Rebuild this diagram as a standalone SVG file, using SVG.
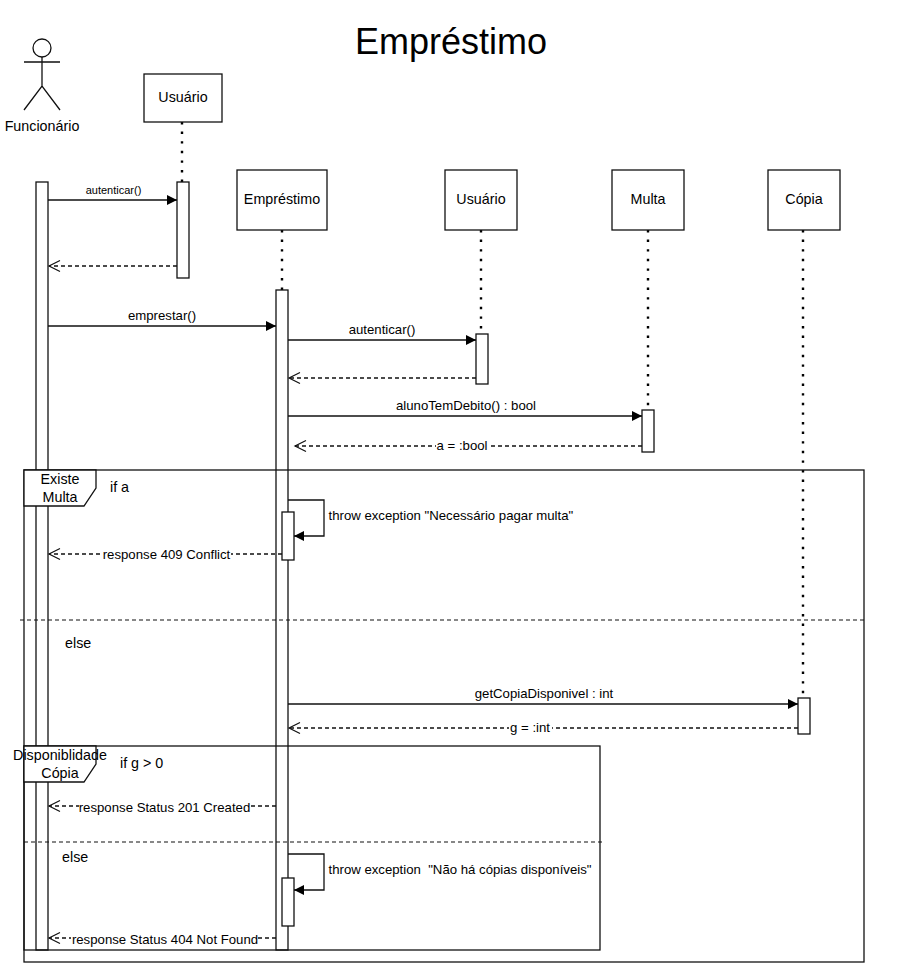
<svg xmlns="http://www.w3.org/2000/svg" width="901" height="980" viewBox="0 0 901 980">
<style>
text{font-family:"Liberation Sans",Arial,Helvetica,sans-serif;font-size:13.2px;fill:#000;text-anchor:middle}
.l{text-anchor:start}
.s{font-size:11px}
.b{font-size:14.3px}
.box{fill:#fff;stroke:#111;stroke-width:1.3}
.life{fill:none;stroke:#000;stroke-width:2.4;stroke-dasharray:2.4 7.200}
.frame{fill:none;stroke:#111;stroke-width:1.3}
.sep{fill:none;stroke:#111;stroke-width:1.2;stroke-dasharray:4 3}
.msg{fill:none;stroke:#111;stroke-width:1.3}
.call{marker-end:url(#block)}
.ret{stroke-dasharray:4 3;marker-end:url(#open)}
.bg{fill:#fff;stroke:none}
</style>
<defs>
<marker id="block" markerUnits="userSpaceOnUse" markerWidth="12" markerHeight="12" refX="10" refY="6" orient="auto"><path d="M0 1L10 6L0 11Z" fill="#000"/></marker>
<marker id="open" markerUnits="userSpaceOnUse" markerWidth="14" markerHeight="14" refX="12" refY="7" orient="auto"><path d="M1 1.500L12 7L1 12.500" fill="none" stroke="#111" stroke-width="1.200"/></marker>
</defs>
<rect width="901" height="980" fill="#fff"/>
<text id="title" x="451" y="54" style="font-size:36px">Empréstimo</text>
<g id="lifelines">
<path class="life" d="M182 122V182"/>
<path class="life" d="M282 230V290"/>
<path class="life" d="M481 230V334"/>
<path class="life" d="M648 230V410"/>
<path class="life" d="M803 230V698"/>
</g>
<g id="actor-funcionario">
<circle cx="42" cy="48" r="9" fill="#fff" stroke="#111" stroke-width="1.300"/>
<path d="M42 57V86M24 62H60M24 110L42 86L60 110" fill="none" stroke="#111" stroke-width="1.300"/>
<text class="b" x="42" y="131">Funcionário</text>
</g>
<g id="node-usuario-1"><rect class="box" x="144" y="74" width="78" height="48"/><text class="b" x="183" y="102">Usuário</text></g>
<g id="node-emprestimo"><rect class="box" x="237" y="170" width="90" height="60"/><text class="b" x="282" y="204">Empréstimo</text></g>
<g id="node-usuario-2"><rect class="box" x="445" y="170" width="72" height="60"/><text class="b" x="481" y="204">Usuário</text></g>
<g id="node-multa"><rect class="box" x="612" y="170" width="72" height="60"/><text class="b" x="648" y="204">Multa</text></g>
<g id="node-copia"><rect class="box" x="768" y="170" width="72" height="60"/><text class="b" x="804" y="204">Cópia</text></g>
<g id="activations">
<rect class="box" x="36" y="182" width="12" height="768"/>
<rect class="box" x="177" y="182" width="12" height="96"/>
<rect class="box" x="276" y="290" width="12" height="660"/>
<rect class="box" x="476" y="334" width="12" height="50"/>
<rect class="box" x="642" y="410" width="12" height="42"/>
<rect class="box" x="798" y="698" width="12" height="36"/>
</g>
<g id="frame-existe-multa">
<rect class="frame" x="24" y="470" width="840" height="492"/>
<path class="box" d="M24 470H96V488L84 506H24Z"/>
<text class="b" x="60" y="484">Existe</text><text class="b" x="60" y="502">Multa</text>
<text class="l b" x="110" y="492">if a</text>
<path class="sep" d="M20 620H866"/>
<text class="l b" x="65" y="648">else</text>
</g>
<g id="frame-disponibilidade">
<rect class="frame" x="24" y="746" width="576" height="204"/>
<path class="box" d="M24 746H96V764L84 782H24Z"/>
<text class="b" x="60" y="760">Disponiblidade</text><text class="b" x="60" y="778">Cópia</text>
<text class="l b" x="120" y="768">if g &gt; 0</text>
<path class="sep" d="M24 842H604"/>
<text class="l b" x="62" y="862">else</text>
</g>
<g id="self-activations">
<rect class="box" x="282" y="512" width="12" height="48"/>
<rect class="box" x="282" y="878" width="12" height="48"/>
</g>
<g id="connectors">
<path class="msg call" d="M48 200H177"/>
<path class="msg ret" d="M177 266H49"/>
<path class="msg call" d="M48 326H276"/>
<path class="msg call" d="M288 340H476"/>
<path class="msg ret" d="M476 378H289"/>
<path class="msg call" d="M288 416H642"/>
<path class="msg ret" d="M642 446H295"/>
<path class="msg call" d="M288 500H324V536H294"/>
<path class="msg ret" d="M282 554H49"/>
<path class="msg call" d="M288 704H798"/>
<path class="msg ret" d="M798 728H289"/>
<path class="msg ret" d="M276 806H49"/>
<path class="msg call" d="M288 854H324V890H294"/>
<path class="msg ret" d="M276 938H49"/>
</g>
<g id="labels">
<text class="s" x="113.500" y="194">autenticar()</text>
<text x="162" y="320">emprestar()</text>
<text x="382" y="334">autenticar()</text>
<text x="466" y="410">alunoTemDebito() : bool</text>
<rect class="bg" x="436" y="440" width="53" height="12"/><text x="462" y="450">a = :bool</text>
<text class="l" x="328.500" y="520">throw exception "Necessário pagar multa"</text>
<rect class="bg" x="102" y="548" width="129" height="12"/><text x="166.500" y="559">response 409 Conflict</text>
<text x="544" y="698">getCopiaDisponivel : int</text>
<rect class="bg" x="509" y="722" width="43" height="12"/><text x="530" y="732">g = :int</text>
<rect class="bg" x="79" y="800" width="171" height="12"/><text x="164.500" y="812">response Status 201 Created</text>
<text class="l" x="328.500" y="874" xml:space="preserve">throw exception  "Não há cópias disponíveis"</text>
<rect class="bg" x="71" y="932" width="187" height="12"/><text x="165" y="944">response Status 404 Not Found</text>
</g>
</svg>
